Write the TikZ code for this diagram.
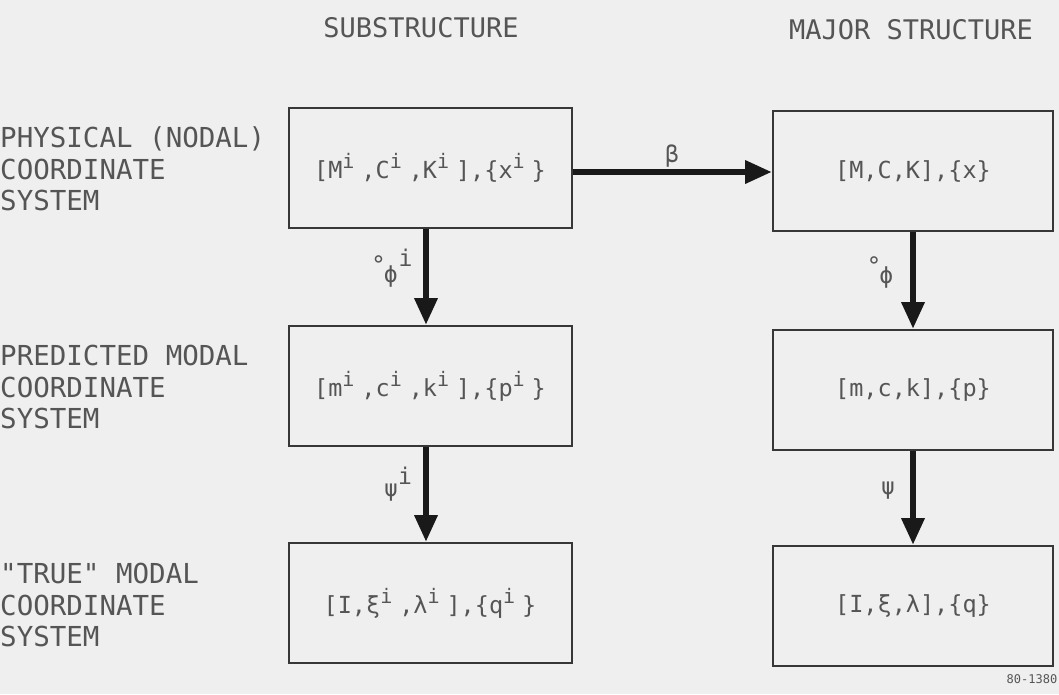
\documentclass[tikz,border=0pt]{standalone}
\usepackage{fontspec}
\setmainfont{DejaVu Sans Mono}[Ligatures=TeXOff]
\usetikzlibrary{arrows.meta}
\definecolor{bg}{RGB}{239,239,239}
\definecolor{txt}{RGB}{85,85,85}
\definecolor{boxc}{RGB}{55,55,55}
\definecolor{arrc}{RGB}{25,25,25}
\newcommand{\supi}{\makebox[19pt][l]{\raisebox{10pt}{\fontsize{20}{20}\selectfont i}}}
\begin{document}
\begin{tikzpicture}[x=1pt,y=-1pt,
  every node/.style={text=txt, inner sep=0pt},
  boxn/.style={draw=boxc, line width=2pt, fill=none, minimum height=120pt, font=\fontsize{23.5}{26}\selectfont},
  lbox/.style={boxn, minimum width=283pt},
  rbox/.style={boxn, minimum width=280pt},
  hdr/.style={font=\fontsize{27}{31}\selectfont},
  side/.style={font=\fontsize{27.5}{31.5}\selectfont, align=left, anchor=west},
  albl/.style={font=\fontsize{23}{24}\selectfont},
  arr/.style={draw=arrc, line width=6.5pt, -{Triangle[length=27pt,width=22pt]}}
]
\fill[bg] (0,0) rectangle (1059,694);
\useasboundingbox (0,0) rectangle (1059,694);

% headers
\node[hdr] (h1) at (421,28) {SUBSTRUCTURE};
\node[hdr] (h2) at (911,30) {MAJOR STRUCTURE};

% side labels
\node[side] (s1) at (0,169) {PHYSICAL (NODAL)\\COORDINATE\\SYSTEM};
\node[side] (s2) at (0,387) {PREDICTED MODAL\\COORDINATE\\SYSTEM};
\node[side] (s3) at (0,605) {"TRUE" MODAL\\COORDINATE\\SYSTEM};

% boxes
\node[lbox] (L1) at (430,168) {[M\supi,C\supi,K\supi],\{x\supi\}};
\node[lbox] (L2) at (430,386) {[m\supi,c\supi,k\supi],\{p\supi\}};
\node[lbox] (L3) at (430,603) {[I,ξ\supi,λ\supi],\{q\supi\}};
\node[rbox] (R1) at (913,171) {[M,C,K],\{x\}};
\node[rbox] (R2) at (913,390) {[m,c,k],\{p\}};
\node[rbox] (R3) at (913,606) {[I,ξ,λ],\{q\}};

% connectors
\draw[arr] ([yshift=-4pt]L1.east) -- ([yshift=-4pt]L1.east -| R1.west);
\draw[arr] ([xshift=-4pt]L1.south) -- ([xshift=-4pt]L2.north);
\draw[arr] ([xshift=-4pt]L2.south) -- ([xshift=-4pt]L3.north);
\draw[arr] (R1.south) -- (R2.north);
\draw[arr] (R2.south) -- (R3.north);

% connector labels
\node[albl] (beta) at (672,156) {β};
\node[albl] (phiL) at (392,268) {\raisebox{9pt}{\fontsize{24}{24}\selectfont °}\hspace{-2pt}ϕ\hspace{1pt}\raisebox{16pt}{i}};
\node[albl] (phiR) at (880,272) {\raisebox{9pt}{\fontsize{24}{24}\selectfont °}\hspace{-2pt}ϕ};
\node[albl] (psiL) at (398,484) {ψ\raisebox{12pt}{i}};
\node[albl] (psiR) at (888,491) {ψ};

% footer
\node[font=\fontsize{12}{14}\selectfont] (ref) at (1032,679) {80-1380};
\end{tikzpicture}
\end{document}
